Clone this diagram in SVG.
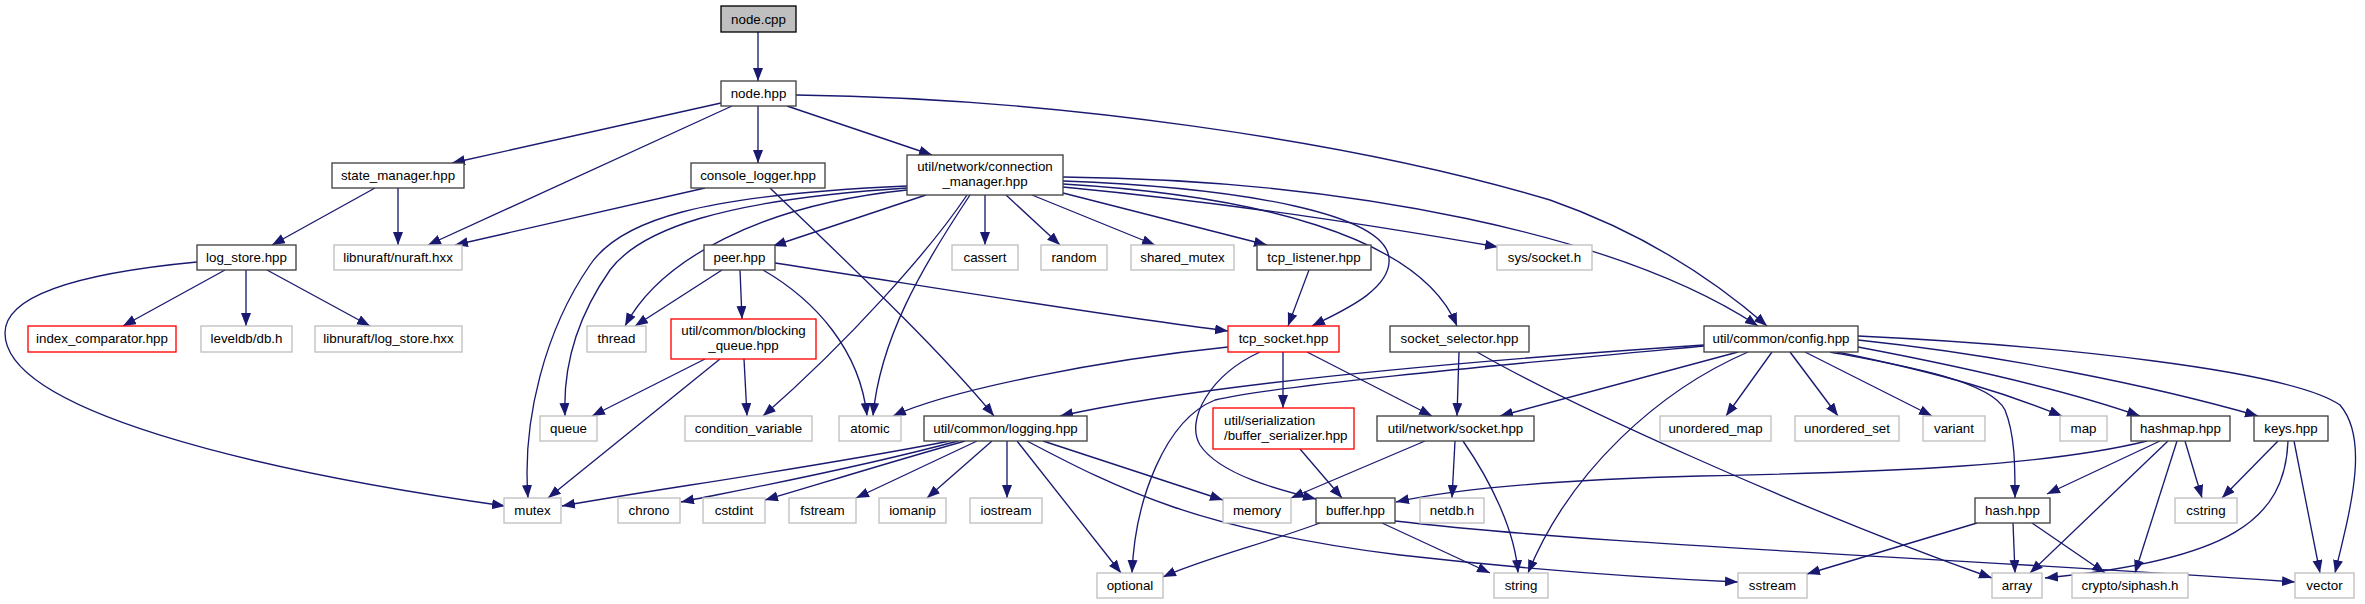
<svg xmlns="http://www.w3.org/2000/svg" width="2365" height="604" viewBox="0 0 2365 604">
<style>
rect{fill:#fff;stroke:#404040;stroke-width:1.33}
.g rect{stroke:#bfbfbf}
.r rect{stroke:#ff0000}
.root rect{fill:#bfbfbf;stroke:#000}
text{font-family:"Liberation Sans",Arial,sans-serif;font-size:13.33px;text-anchor:middle;fill:#000}
#edges path{fill:none;stroke:#191970;stroke-width:1.33;marker-end:url(#a)}
</style>
<defs>
<marker id="a" markerUnits="userSpaceOnUse" markerWidth="16" markerHeight="12" refX="13" refY="5" orient="auto">
<path d="M0,0 L13,5 L0,10 z" fill="#191970"/>
</marker>
</defs>
<g id="edges">
<path d="M758,32 L758,81"/>
<path d="M721,103 L452,163"/>
<path d="M732,106 L428,245"/>
<path d="M758,106 L758,163"/>
<path d="M787,106 L932,155"/>
<path d="M796,95 C1050,98 1350,140 1550,200 C1650,235 1720,285 1767,326"/>
<path d="M375,188 L272,245"/>
<path d="M398,188 L398,245"/>
<path d="M705,188 L455,245"/>
<path d="M770,188 C850,265 940,350 994,416"/>
<path d="M926,195 L773,246"/>
<path d="M985,195 L985,245"/>
<path d="M1006,195 L1060,245"/>
<path d="M1032,195 L1155,245"/>
<path d="M1063,193 L1267,245"/>
<path d="M1063,187 C1250,205 1400,230 1498,247"/>
<path d="M1063,181 C1250,188 1385,215 1389,258 C1392,290 1340,312 1312,326"/>
<path d="M1063,184 C1250,195 1420,235 1457,326"/>
<path d="M1063,177 C1350,180 1620,235 1758,326"/>
<path d="M907,186 C700,195 620,220 590,265 C545,330 522,420 528,498"/>
<path d="M907,188 C720,200 640,230 610,270 C575,320 563,370 565,416"/>
<path d="M907,190 C760,205 660,260 625,326"/>
<path d="M967,195 C930,250 850,340 763,416"/>
<path d="M970,195 C920,270 880,340 873,416"/>
<path d="M722,270 L635,326"/>
<path d="M740,270 L742,319"/>
<path d="M763,270 C815,300 860,350 867,416"/>
<path d="M775,263 C950,290 1100,315 1228,331"/>
<path d="M225,270 L123,326"/>
<path d="M246,270 L246,326"/>
<path d="M267,270 L370,326"/>
<path d="M197,262 C60,275 5,300 5,333 C5,410 250,470 505,506"/>
<path d="M705,359 L592,416"/>
<path d="M720,359 L548,498"/>
<path d="M744,359 L747,416"/>
<path d="M1309,270 L1288,326"/>
<path d="M1228,347 C1100,360 950,390 893,416"/>
<path d="M1283,352 L1283,408"/>
<path d="M1307,352 L1432,416"/>
<path d="M1260,352 C1210,375 1185,420 1200,445 C1220,475 1280,490 1316,499"/>
<path d="M1459,352 L1457,416"/>
<path d="M1477,352 C1560,400 1800,510 1992,578"/>
<path d="M1704,345 C1450,362 1200,385 1060,416"/>
<path d="M1704,346 C1500,365 1280,385 1215,400 C1165,420 1135,500 1132,573"/>
<path d="M1738,352 L1500,416"/>
<path d="M1748,352 C1660,390 1570,470 1528,573"/>
<path d="M1772,352 L1726,416"/>
<path d="M1790,352 L1838,416"/>
<path d="M1805,352 L1932,416"/>
<path d="M1837,352 C1950,375 2010,395 2062,416"/>
<path d="M1858,347 C1980,370 2080,395 2140,416"/>
<path d="M1858,340 C2000,355 2150,385 2258,416"/>
<path d="M1858,336 C2050,345 2290,370 2340,405 C2370,440 2350,510 2335,573"/>
<path d="M1830,352 C1900,365 1990,380 2005,410 C2015,435 2015,465 2015,498"/>
<path d="M1425,441 L1291,498"/>
<path d="M1455,441 L1452,498"/>
<path d="M1463,441 C1490,480 1515,530 1518,573"/>
<path d="M1300,449 L1342,498"/>
<path d="M1320,523 C1260,545 1200,560 1163,577"/>
<path d="M1382,523 L1490,573"/>
<path d="M1395,521 C1600,545 1900,555 2295,582"/>
<path d="M950,441 C800,470 650,490 562,506"/>
<path d="M958,441 C850,470 740,490 681,502"/>
<path d="M965,441 C880,465 800,490 765,500"/>
<path d="M977,441 L856,498"/>
<path d="M992,441 L927,498"/>
<path d="M1007,441 L1007,498"/>
<path d="M1017,441 L1121,573"/>
<path d="M1043,441 L1223,500"/>
<path d="M1027,441 C1120,490 1200,530 1400,555 C1550,572 1650,578 1738,582"/>
<path d="M2147,441 C2050,465 1900,472 1700,476 C1550,480 1450,490 1396,502"/>
<path d="M2160,441 L2047,494"/>
<path d="M2168,441 L2030,573"/>
<path d="M2177,441 L2135,573"/>
<path d="M2185,441 L2202,498"/>
<path d="M2278,441 L2222,498"/>
<path d="M2288,441 C2285,520 2230,560 2045,578"/>
<path d="M2294,441 L2320,573"/>
<path d="M2013,523 L2015,573"/>
<path d="M2032,523 L2105,573"/>
<path d="M1977,523 L1807,574"/>
</g>
<g id="n_node_cpp" class="root"><rect x="721" y="6" width="75" height="26"/><text x="758.5" y="23.5">node.cpp</text></g>
<g id="n_node_hpp"><rect x="721" y="81" width="75" height="25"/><text x="758.5" y="98">node.hpp</text></g>
<g id="n_state_manager"><rect x="332" y="163" width="132" height="25"/><text x="398" y="180">state_manager.hpp</text></g>
<g id="n_console_logger"><rect x="691" y="163" width="134" height="25"/><text x="758" y="180">console_logger.hpp</text></g>
<g id="n_conn_manager"><rect x="907" y="155" width="156" height="40"/><text x="985" y="171">util/network/connection</text><text x="985" y="186">_manager.hpp</text></g>
<g id="n_log_store"><rect x="197" y="245" width="99" height="25"/><text x="246.5" y="262">log_store.hpp</text></g>
<g id="n_nuraft" class="g"><rect x="334" y="245" width="128" height="25"/><text x="398" y="262">libnuraft/nuraft.hxx</text></g>
<g id="n_peer"><rect x="704" y="245" width="71" height="25"/><text x="739.5" y="262">peer.hpp</text></g>
<g id="n_cassert" class="g"><rect x="952" y="245" width="66" height="25"/><text x="985" y="262">cassert</text></g>
<g id="n_random" class="g"><rect x="1041" y="245" width="66" height="25"/><text x="1074" y="262">random</text></g>
<g id="n_shared_mutex" class="g"><rect x="1131" y="245" width="103" height="25"/><text x="1182.5" y="262">shared_mutex</text></g>
<g id="n_tcp_listener"><rect x="1257" y="245" width="114" height="25"/><text x="1314" y="262">tcp_listener.hpp</text></g>
<g id="n_sys_socket" class="g"><rect x="1497" y="245" width="95" height="25"/><text x="1544.5" y="262">sys/socket.h</text></g>
<g id="n_index_comparator" class="r"><rect x="28" y="326" width="148" height="26"/><text x="102" y="343">index_comparator.hpp</text></g>
<g id="n_leveldb" class="g"><rect x="201" y="326" width="91" height="26"/><text x="246.5" y="343">leveldb/db.h</text></g>
<g id="n_log_store_hxx" class="g"><rect x="315" y="326" width="147" height="26"/><text x="388.5" y="343">libnuraft/log_store.hxx</text></g>
<g id="n_thread" class="g"><rect x="587" y="326" width="59" height="26"/><text x="616.5" y="343">thread</text></g>
<g id="n_blocking_queue" class="r"><rect x="671" y="319" width="145" height="40"/><text x="743.5" y="335">util/common/blocking</text><text x="743.5" y="350">_queue.hpp</text></g>
<g id="n_tcp_socket" class="r"><rect x="1228" y="326" width="111" height="26"/><text x="1283.5" y="343">tcp_socket.hpp</text></g>
<g id="n_socket_selector"><rect x="1390" y="326" width="139" height="26"/><text x="1459.5" y="343">socket_selector.hpp</text></g>
<g id="n_config"><rect x="1704" y="326" width="154" height="26"/><text x="1781" y="343">util/common/config.hpp</text></g>
<g id="n_queue" class="g"><rect x="540" y="416" width="57" height="25"/><text x="568.5" y="433">queue</text></g>
<g id="n_condition_variable" class="g"><rect x="685" y="416" width="127" height="25"/><text x="748.5" y="433">condition_variable</text></g>
<g id="n_atomic" class="g"><rect x="839" y="416" width="62" height="25"/><text x="870" y="433">atomic</text></g>
<g id="n_logging"><rect x="924" y="416" width="163" height="25"/><text x="1005.5" y="433">util/common/logging.hpp</text></g>
<g id="n_buffer_serializer" class="r"><rect x="1213" y="408" width="141" height="41"/><text x="1224" y="424.5" style="text-anchor:start">util/serialization</text><text x="1224" y="439.5" style="text-anchor:start">/buffer_serializer.hpp</text></g>
<g id="n_socket"><rect x="1377" y="416" width="157" height="25"/><text x="1455.5" y="433">util/network/socket.hpp</text></g>
<g id="n_unordered_map" class="g"><rect x="1660" y="416" width="111" height="25"/><text x="1715.5" y="433">unordered_map</text></g>
<g id="n_unordered_set" class="g"><rect x="1795" y="416" width="104" height="25"/><text x="1847" y="433">unordered_set</text></g>
<g id="n_variant" class="g"><rect x="1923" y="416" width="62" height="25"/><text x="1954" y="433">variant</text></g>
<g id="n_map" class="g"><rect x="2060" y="416" width="47" height="25"/><text x="2083.5" y="433">map</text></g>
<g id="n_hashmap"><rect x="2131" y="416" width="99" height="25"/><text x="2180.5" y="433">hashmap.hpp</text></g>
<g id="n_keys"><rect x="2254" y="416" width="74" height="25"/><text x="2291" y="433">keys.hpp</text></g>
<g id="n_mutex" class="g"><rect x="504" y="498" width="57" height="25"/><text x="532.5" y="515">mutex</text></g>
<g id="n_chrono" class="g"><rect x="618" y="498" width="62" height="25"/><text x="649" y="515">chrono</text></g>
<g id="n_cstdint" class="g"><rect x="703" y="498" width="62" height="25"/><text x="734" y="515">cstdint</text></g>
<g id="n_fstream" class="g"><rect x="789" y="498" width="67" height="25"/><text x="822.5" y="515">fstream</text></g>
<g id="n_iomanip" class="g"><rect x="879" y="498" width="67" height="25"/><text x="912.5" y="515">iomanip</text></g>
<g id="n_iostream" class="g"><rect x="970" y="498" width="72" height="25"/><text x="1006" y="515">iostream</text></g>
<g id="n_memory" class="g"><rect x="1223" y="498" width="68" height="25"/><text x="1257" y="515">memory</text></g>
<g id="n_buffer"><rect x="1316" y="498" width="79" height="25"/><text x="1355.5" y="515">buffer.hpp</text></g>
<g id="n_netdb" class="g"><rect x="1420" y="498" width="64" height="25"/><text x="1452" y="515">netdb.h</text></g>
<g id="n_hash"><rect x="1975" y="498" width="75" height="25"/><text x="2012.5" y="515">hash.hpp</text></g>
<g id="n_cstring" class="g"><rect x="2175" y="498" width="62" height="25"/><text x="2206" y="515">cstring</text></g>
<g id="n_optional" class="g"><rect x="1097" y="573" width="66" height="25"/><text x="1130" y="590">optional</text></g>
<g id="n_string" class="g"><rect x="1494" y="573" width="54" height="25"/><text x="1521" y="590">string</text></g>
<g id="n_sstream" class="g"><rect x="1738" y="573" width="69" height="25"/><text x="1772.5" y="590">sstream</text></g>
<g id="n_array" class="g"><rect x="1992" y="573" width="50" height="25"/><text x="2017" y="590">array</text></g>
<g id="n_siphash" class="g"><rect x="2072" y="573" width="116" height="25"/><text x="2130" y="590">crypto/siphash.h</text></g>
<g id="n_vector" class="g"><rect x="2295" y="573" width="59" height="25"/><text x="2324.5" y="590">vector</text></g>
</svg>
